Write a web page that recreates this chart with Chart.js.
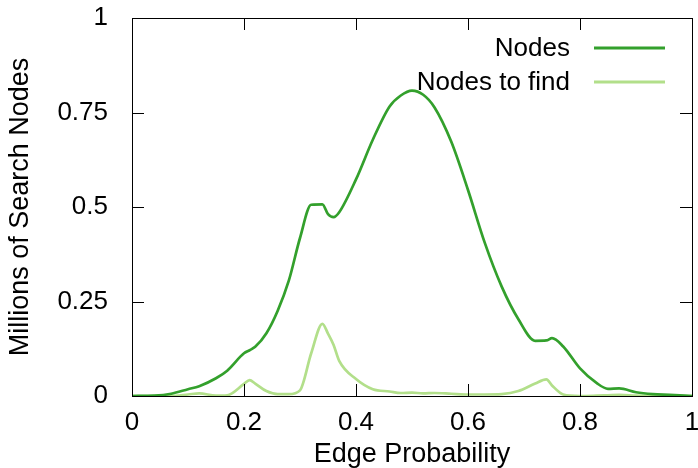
<!DOCTYPE html>
<html>
<head>
<meta charset="utf-8">
<title>Search nodes vs edge probability</title>
<script src="https://cdn.jsdelivr.net/npm/chart.js@4.4.1/dist/chart.umd.min.js"></script>
<style>
    html, body { margin: 0; padding: 0; background: #ffffff; }
    #chart { display: block; }
</style>
</head>
<body>
<canvas id="chart" width="698" height="468"></canvas>
<script>
// edge probability samples (x)
const edgeProb = [0, 0.04, 0.07, 0.1, 0.12, 0.15, 0.17, 0.2, 0.21, 0.22, 0.24, 0.26, 0.28, 0.3,
    0.32, 0.34, 0.35, 0.36, 0.37, 0.4, 0.43, 0.46, 0.48, 0.5, 0.52, 0.54, 0.57, 0.6, 0.63,
    0.66, 0.69, 0.72, 0.74, 0.75, 0.77, 0.8, 0.83, 0.85, 0.87, 0.9, 0.93, 0.96, 1.0];

// millions of search nodes
const nodes = [0, 0.001, 0.006, 0.018, 0.026, 0.047, 0.067, 0.113, 0.121, 0.13, 0.166, 0.225,
    0.305, 0.418, 0.506, 0.507, 0.481, 0.473, 0.486, 0.573, 0.678, 0.766, 0.795, 0.808, 0.797,
    0.764, 0.673, 0.545, 0.405, 0.29, 0.203, 0.146, 0.147, 0.153, 0.131, 0.073, 0.034, 0.019,
    0.02, 0.01, 0.005, 0.003, 0.0];

const nodesToFind = [0, 0, 0, 0.004, 0.007, 0.001, 0.002, 0.032, 0.042, 0.033, 0.013, 0.005,
    0.005, 0.015, 0.113, 0.191, 0.165, 0.135, 0.093, 0.045, 0.018, 0.012, 0.008, 0.009, 0.007,
    0.008, 0.006, 0.004, 0.004, 0.005, 0.013, 0.033, 0.044, 0.028, 0.004, 0, 0.001, 0.002,
    0.003, 0.001, 0, 0, 0];

const xTicks = [0, 0.2, 0.4, 0.6, 0.8, 1];
const yTicks = [0, 0.25, 0.5, 0.75, 1];

const seriesNames = ['Nodes', 'Nodes to find'];
const seriesColors = ['#33a02c', '#b2df8a'];

const FONT = { family: '"Liberation Sans", Arial, sans-serif', size: 26 };
const TITLE_FONT = { family: '"Liberation Sans", Arial, sans-serif', size: 27, lineHeight: 1.0 };

function toPoints(ys) {
    return edgeProb.map((x, i) => ({ x: x, y: ys[i] }));
}

/**
 * gnuplot style frame: full box, inward ticks mirrored on all sides, legend top right
 */
const framePlugin = {
    id: 'frame',
    afterDatasetsDraw(chart) {
        const { ctx, chartArea: a, scales } = chart;
        const tl = 12;
        ctx.save();
        ctx.strokeStyle = '#000';
        ctx.lineWidth = 1;
        ctx.beginPath();
        xTicks.forEach(v => {
            if (v === 0 || v === 1) return;
            const px = Math.round(scales.x.getPixelForValue(v)) + 0.5;
            ctx.moveTo(px, a.bottom); ctx.lineTo(px, a.bottom - tl);
            ctx.moveTo(px, a.top); ctx.lineTo(px, a.top + tl);
        });
        yTicks.forEach(v => {
            if (v === 0 || v === 1) return;
            const py = Math.round(scales.y.getPixelForValue(v)) + 0.5;
            ctx.moveTo(a.left, py); ctx.lineTo(a.left + tl, py);
            ctx.moveTo(a.right, py); ctx.lineTo(a.right - tl, py);
        });
        ctx.stroke();
        ctx.strokeRect(Math.round(a.left) + 0.5, Math.round(a.top) + 0.5,
            Math.round(a.right - a.left), Math.round(a.bottom - a.top));

        // legend
        ctx.font = FONT.size + 'px ' + FONT.family;
        ctx.textAlign = 'right';
        ctx.textBaseline = 'middle';
        chart.data.datasets.forEach((ds, i) => {
            const y = 48 + i * 34;
            ctx.fillStyle = '#000';
            ctx.fillText(ds.label, 570, y + 1);
            ctx.strokeStyle = ds.borderColor;
            ctx.lineWidth = 3;
            ctx.beginPath();
            ctx.moveTo(594, y);
            ctx.lineTo(665, y);
            ctx.stroke();
        });
        ctx.restore();
    }
};

new Chart(document.getElementById('chart'), {
    type: 'line',
    data: {
        datasets: [
            {
                label: seriesNames[0],
                data: toPoints(nodes),
                borderColor: seriesColors[0],
                borderWidth: 2.7,
                pointRadius: 0,
                cubicInterpolationMode: 'monotone',
                fill: false
            },
            {
                label: seriesNames[1],
                data: toPoints(nodesToFind),
                borderColor: seriesColors[1],
                borderWidth: 2.7,
                pointRadius: 0,
                cubicInterpolationMode: 'monotone',
                fill: false
            }
        ]
    },
    options: {
        responsive: false,
        animation: false,
        layout: { padding: { top: 18, right: 6, left: 0, bottom: 0 } },
        plugins: {
            legend: { display: false },
            tooltip: { enabled: false }
        },
        scales: {
            x: {
                type: 'linear',
                min: 0,
                max: 1,
                afterBuildTicks: s => { s.ticks = xTicks.map(v => ({ value: v })); },
                afterFit: s => { s.height = 72; s.paddingLeft = 0; s.paddingRight = 0; },
                grid: { display: false, drawTicks: false },
                border: { display: false },
                ticks: {
                    color: '#000',
                    font: FONT,
                    padding: 11,
                    maxRotation: 0,
                    callback: v => String(v)
                },
                title: {
                    display: true,
                    text: 'Edge Probability',
                    color: '#000',
                    font: TITLE_FONT,
                    padding: 0
                }
            },
            y: {
                min: 0,
                max: 1,
                afterBuildTicks: s => { s.ticks = yTicks.map(v => ({ value: v })); },
                afterFit: s => { s.width = 132; s.paddingTop = 0; s.paddingBottom = 0; },
                grid: { display: false, drawTicks: false },
                border: { display: false },
                ticks: {
                    color: '#000',
                    font: FONT,
                    padding: 24,
                    callback: v => String(v)
                },
                title: {
                    display: true,
                    text: 'Millions of Search Nodes',
                    color: '#000',
                    font: TITLE_FONT,
                    padding: 7
                }
            }
        }
    },
    plugins: [framePlugin]
});
</script>
</body>
</html>
